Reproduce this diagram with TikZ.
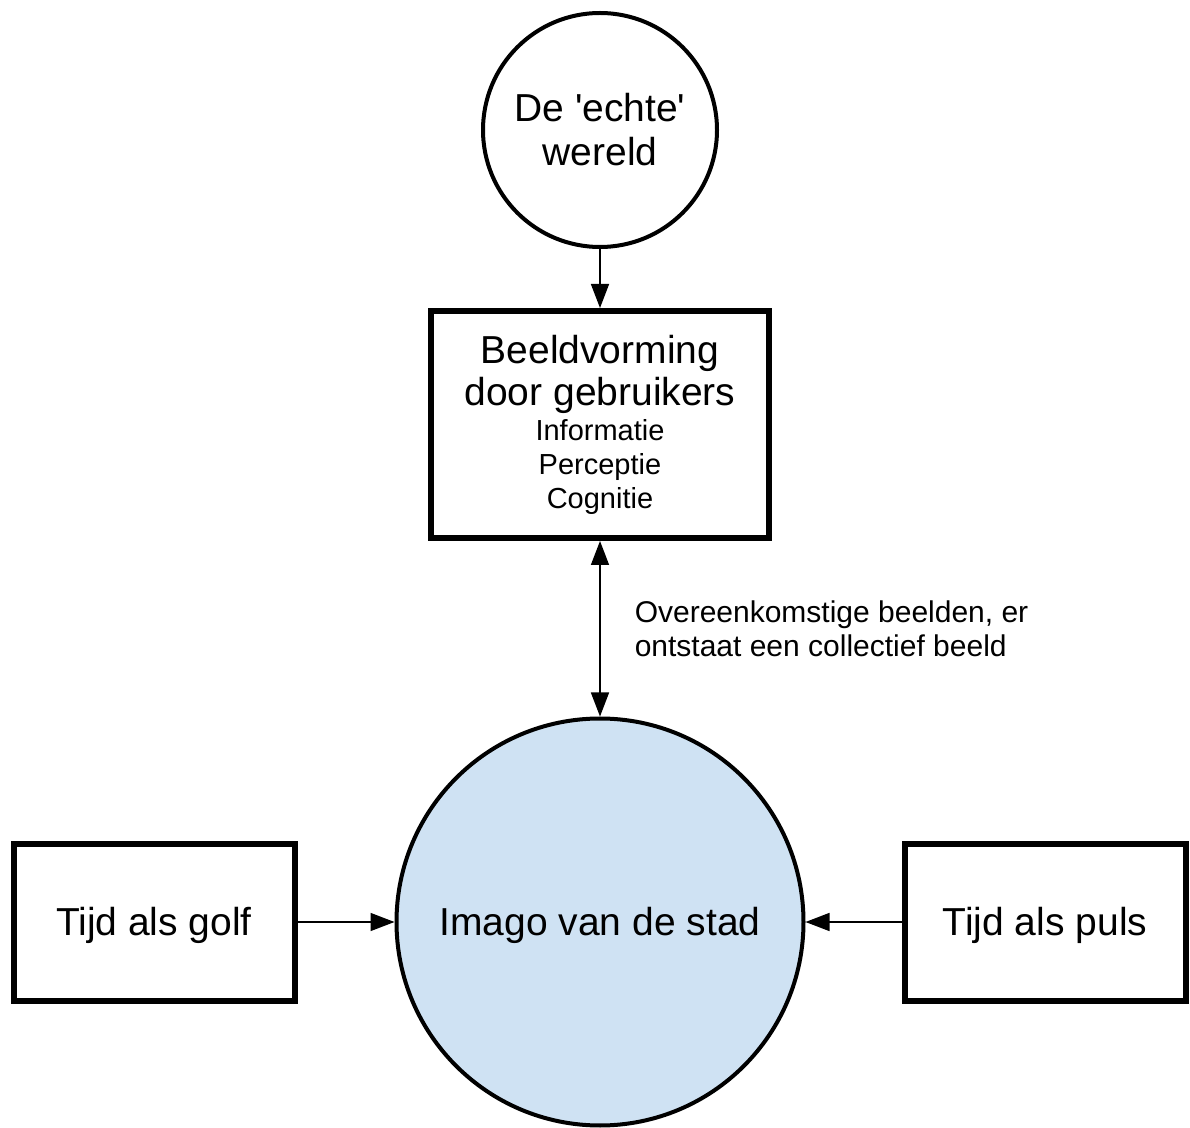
\documentclass[tikz,border=0pt]{standalone}
\usepackage{fontspec}
\setmainfont{Liberation Sans}
\usetikzlibrary{arrows.meta}
\definecolor{imagoblue}{HTML}{CFE2F3}

\tikzset{
    bigfont/.style={font=\fontsize{19.5}{22}\selectfont},
    smallfont/.style={font=\fontsize{15}{17}\selectfont},
    % circles and boxes
    worldcircle/.style={draw, circle, line width=2pt, minimum size=117pt, inner sep=0pt, align=center, bigfont},
    imagocircle/.style={draw, circle, line width=2pt, fill=imagoblue, minimum size=203.5pt, inner sep=0pt, text height=14pt, text depth=1pt, bigfont},
    viewbox/.style={draw, rectangle, line width=3pt, minimum width=169pt, minimum height=113.5pt, inner sep=0pt, align=center, bigfont},
    timebox/.style={draw, rectangle, line width=3pt, minimum width=140.5pt, minimum height=78.5pt, inner sep=0pt, text height=14pt, text depth=1pt, bigfont},
    % connectors
    link/.style={line width=0.75pt, -{Triangle[length=12pt, width=9pt]}},
    twolink/.style={line width=0.75pt, {Triangle[length=12pt, width=9pt]}-{Triangle[length=12pt, width=9pt]}}
}

\newcommand{\smallline}{\fontsize{14.5}{17}\selectfont}

\begin{document}
\begin{tikzpicture}[x=0.5pt, y=-0.5pt]

%  \draw[step=100, gray!30, ultra thin] (0,0) grid (1190,1128);
    \useasboundingbox (0,0) rectangle (1190,1128);

    % the four parts
    \node[worldcircle] (world) at (600,130) {De \textquotesingle echte\textquotesingle\\wereld};
    \node[viewbox] (view) at (600,424.5) {Beeldvorming\\[-1pt]door gebruikers\\[-4.5pt]\smallline Informatie\\[-5pt]\smallline Perceptie\\[-5pt]\smallline Cognitie};
    \node[imagocircle] (imago) at (600,922) {Imago van de stad};
    \node[timebox] (wave) at (154,922) {Tijd als golf};
    \node[timebox] (pulse) at (1045,922) {Tijd als puls};

    % the arrows
    \draw[link] (world) -- (view);
    \draw[twolink] (view) -- (imago)
        node[midway, anchor=west, xshift=17pt, inner sep=0pt, align=left, smallfont] (shared) {Overeenkomstige beelden, er\\ontstaat een collectief beeld};
    \draw[link] (wave) -- (imago);
    \draw[link] (pulse) -- (imago);
\end{tikzpicture}
\end{document}
